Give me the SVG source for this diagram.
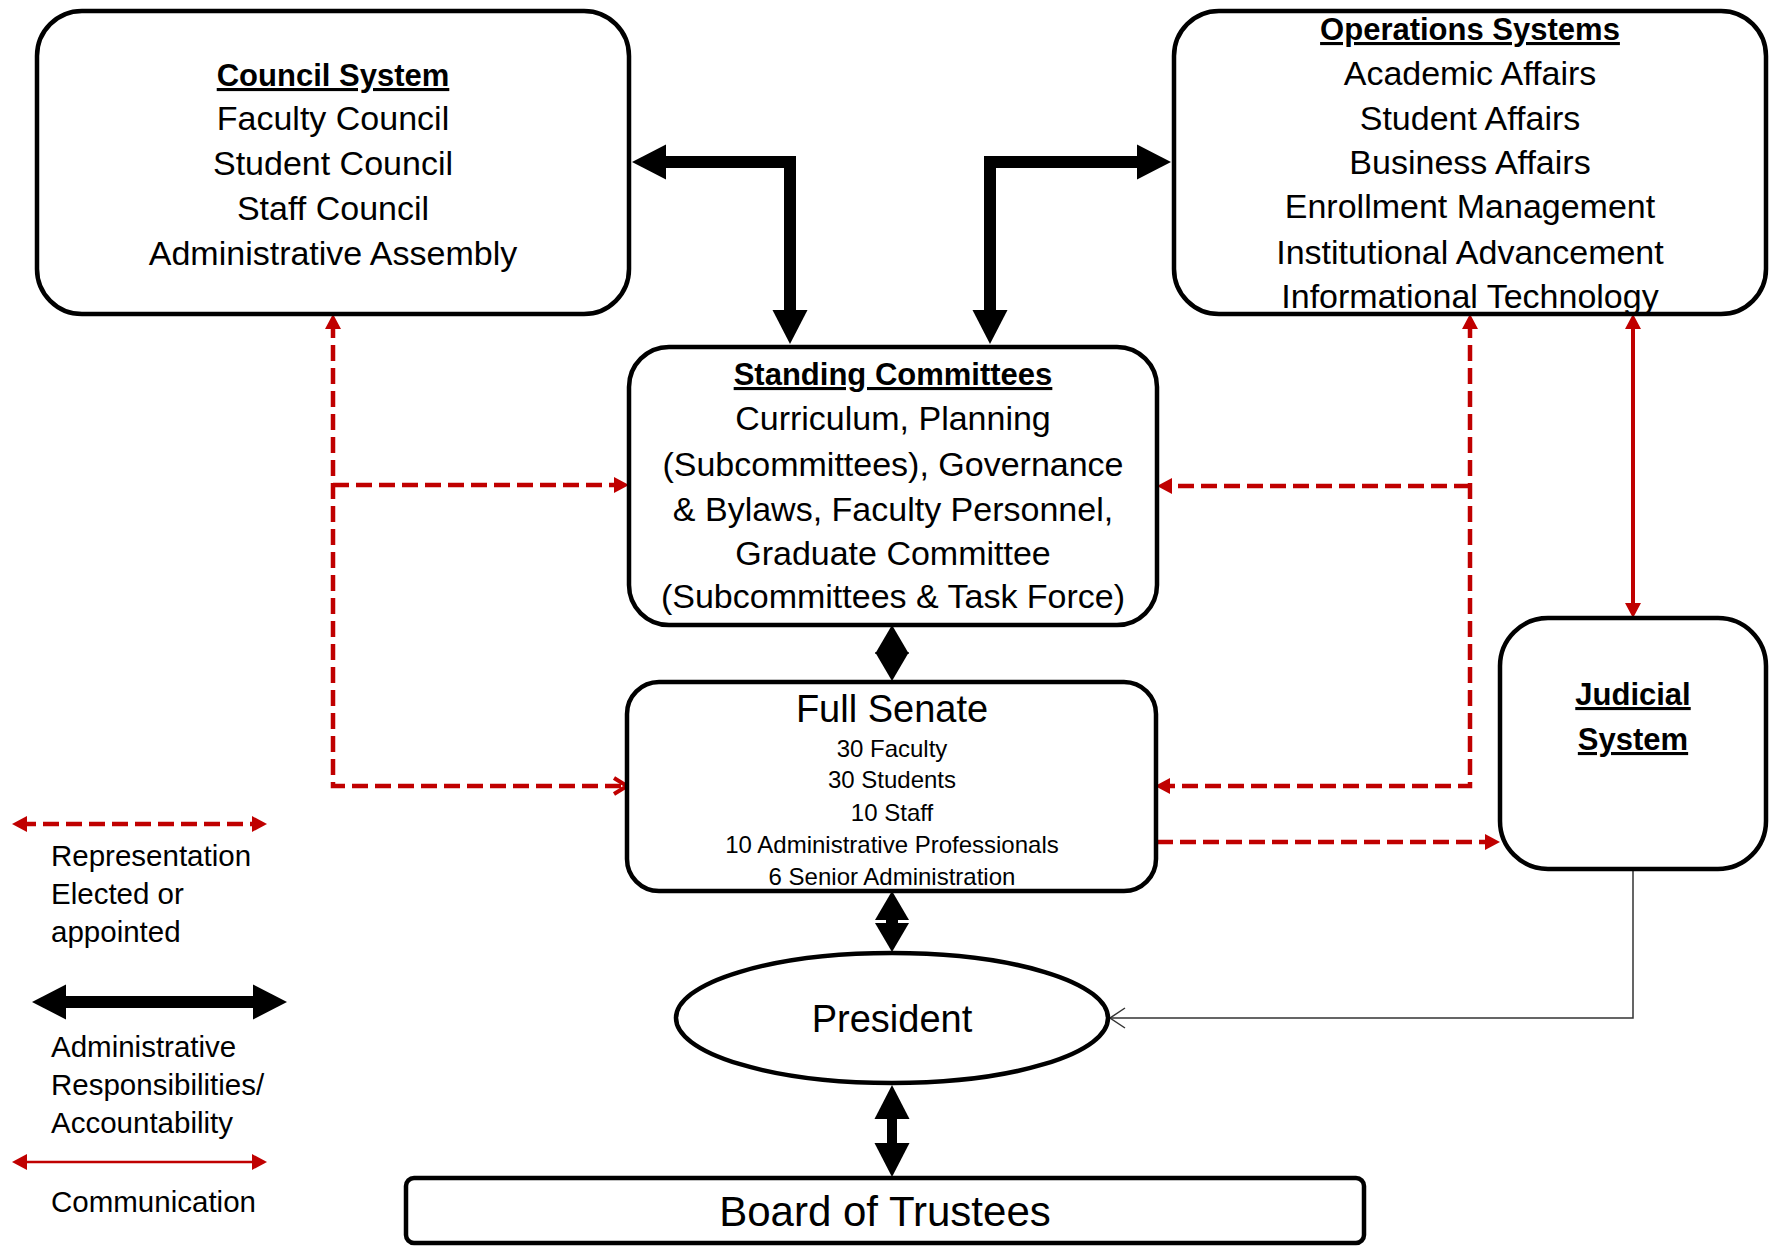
<svg xmlns="http://www.w3.org/2000/svg" width="1778" height="1246" viewBox="0 0 1778 1246">
<style>
text{font-family:"Liberation Sans",Arial,sans-serif;fill:#000;text-anchor:middle}
.b{font-size:34px}
.t{font-size:31px;font-weight:bold;text-decoration:underline}
.s{font-size:24px}
.lg{font-size:29.5px;text-anchor:start}
.box{fill:#fff;stroke:#000;stroke-width:4.5}
.blk{fill:none;stroke:#000;stroke-width:12;stroke-linejoin:miter}
.rd{fill:none;stroke:#c00000;stroke-width:4.5;stroke-dasharray:16 7}
.rs{fill:none;stroke:#c00000;stroke-width:4}
</style>
<defs>
<marker id="bh" markerUnits="userSpaceOnUse" markerWidth="34" markerHeight="35" refX="14" refY="17.5" orient="auto-start-reverse" overflow="visible"><path d="M0,0 L34,17.5 L0,35 z" fill="#000"/></marker>
<marker id="bs" markerUnits="userSpaceOnUse" markerWidth="29" markerHeight="34" refX="9" refY="17" orient="auto-start-reverse" overflow="visible"><path d="M0,0 L29,17 L0,34 z" fill="#000"/></marker>
<marker id="rh" markerUnits="userSpaceOnUse" markerWidth="15" markerHeight="16" refX="7" refY="8" orient="auto-start-reverse" overflow="visible"><path d="M0,0 L15,8 L0,16 z" fill="#c00000"/></marker>
<marker id="ro" markerUnits="userSpaceOnUse" markerWidth="16" markerHeight="18" refX="14" refY="9" orient="auto" overflow="visible"><path d="M1,1 L14,9 L1,17" fill="none" stroke="#c00000" stroke-width="4"/></marker>
<marker id="ko" markerUnits="userSpaceOnUse" markerWidth="16" markerHeight="20" refX="1" refY="10" orient="auto" overflow="visible"><path d="M-14,0 L1,10 L-14,20" fill="none" stroke="#333" stroke-width="1.5"/></marker>
</defs>

<g id="connectors">
<path class="blk" d="M652 162 H790 V324" marker-start="url(#bh)" marker-end="url(#bh)"/>
<path class="blk" d="M990 324 V162 H1151" marker-start="url(#bh)" marker-end="url(#bh)"/>
<path class="blk" d="M892 645 V661" marker-start="url(#bs)" marker-end="url(#bs)"/>
<path class="blk" d="M892 911 V932" marker-start="url(#bs)" marker-end="url(#bs)"/>
<path class="blk" style="stroke-width:10" d="M892 1105 V1157" marker-start="url(#bh)" marker-end="url(#bh)"/>
<path class="rd" d="M333 322 V786 H627" marker-start="url(#rh)" marker-end="url(#ro)"/>
<path class="rd" d="M333 485 H621" marker-end="url(#rh)"/>
<path class="rd" d="M1470 322 V786 H1163" marker-start="url(#rh)" marker-end="url(#rh)"/>
<path class="rd" d="M1470 486 H1165" marker-end="url(#rh)"/>
<path class="rd" d="M1157 842 H1492" marker-end="url(#rh)"/>
<path class="rs" d="M1633 322 V610" marker-start="url(#rh)" marker-end="url(#rh)"/>
<path d="M1633 869 V1018 H1110" fill="none" stroke="#333" stroke-width="1.5" marker-end="url(#ko)"/>
</g>

<g id="council">
<rect class="box" x="37" y="11" width="592" height="303" rx="45"/>
<text class="t" x="333" y="86">Council System</text>
<text class="b" x="333" y="130">Faculty Council</text>
<text class="b" x="333" y="175">Student Council</text>
<text class="b" x="333" y="220">Staff Council</text>
<text class="b" x="333" y="265">Administrative Assembly</text>
</g>

<g id="operations">
<rect class="box" x="1174" y="11" width="592" height="303" rx="45"/>
<text class="t" x="1470" y="40">Operations Systems</text>
<text class="b" x="1470" y="85">Academic Affairs</text>
<text class="b" x="1470" y="130">Student Affairs</text>
<text class="b" x="1470" y="174">Business Affairs</text>
<text class="b" x="1470" y="218">Enrollment Management</text>
<text class="b" x="1470" y="264">Institutional Advancement</text>
<text class="b" x="1470" y="308">Informational Technology</text>
</g>

<g id="standing">
<rect class="box" x="629" y="347" width="528" height="278" rx="40"/>
<text class="t" x="893" y="385">Standing Committees</text>
<text class="b" x="893" y="430">Curriculum, Planning</text>
<text class="b" x="893" y="476">(Subcommittees), Governance</text>
<text class="b" x="893" y="521">&amp; Bylaws, Faculty Personnel,</text>
<text class="b" x="893" y="565">Graduate Committee</text>
<text class="b" x="893" y="608">(Subcommittees &amp; Task Force)</text>
</g>

<g id="senate">
<rect class="box" x="627" y="682" width="529" height="209" rx="32"/>
<text x="892" y="722" style="font-size:38px">Full Senate</text>
<text class="s" x="892" y="757">30 Faculty</text>
<text class="s" x="892" y="788">30 Students</text>
<text class="s" x="892" y="821">10 Staff</text>
<text class="s" x="892" y="853">10 Administrative Professionals</text>
<text class="s" x="892" y="885">6 Senior Administration</text>
</g>

<g id="judicial">
<rect class="box" x="1500" y="618" width="266" height="251" rx="48"/>
<text class="t" x="1633" y="705">Judicial</text>
<text class="t" x="1633" y="750">System</text>
</g>

<g id="president">
<ellipse class="box" cx="892" cy="1018" rx="216" ry="65"/>
<text x="892" y="1032" style="font-size:38px">President</text>
</g>

<g id="board">
<rect class="box" x="406" y="1178" width="958" height="65" rx="8"/>
<text x="885" y="1226" style="font-size:42px">Board of Trustees</text>
</g>

<g id="legend">
<path class="rd" d="M20 824 H259" marker-start="url(#rh)" marker-end="url(#rh)"/>
<text class="lg" x="51" y="866">Representation</text>
<text class="lg" x="51" y="904">Elected or</text>
<text class="lg" x="51" y="942">appointed</text>
<path class="blk" d="M52 1002 H267" marker-start="url(#bh)" marker-end="url(#bh)"/>
<text class="lg" x="51" y="1057">Administrative</text>
<text class="lg" x="51" y="1095">Responsibilities/</text>
<text class="lg" x="51" y="1133">Accountability</text>
<path class="rs" style="stroke-width:2.5" d="M20 1162 H259" marker-start="url(#rh)" marker-end="url(#rh)"/>
<text class="lg" x="51" y="1212">Communication</text>
</g>
</svg>
